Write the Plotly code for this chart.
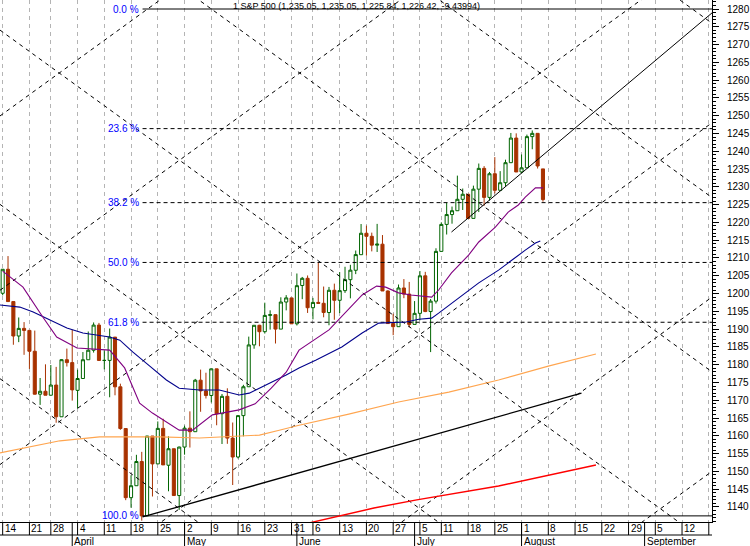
import plotly.graph_objects as go

# ---------------- data (trading-day index: 0 = Mon 14 Mar 2005) ----------------
day_idx = list(range(102))
opens = [1200.08,1206.83,1197.75,1188.07,1190.21,1189.65,1183.78,1171.71,1172.53,1171.42,
         1174.28,1165.36,1181.41,1180.59,1172.79,1176.12,1181.39,1184.07,1191.14,1181.20,
         1181.21,1187.76,1173.79,1162.05,1142.62,1145.98,1152.78,1137.50,1159.95,1152.12,
         1162.10,1151.74,1156.38,1143.22,1156.85,1162.16,1161.17,1175.65,1172.63,1171.35,
         1178.84,1166.22,1171.11,1159.36,1154.05,1165.69,1173.80,1185.56,1191.08,1189.28,
         1193.86,1194.07,1190.01,1197.62,1198.78,1191.50,1202.27,1204.29,1196.02,1197.51,
         1197.26,1194.67,1200.93,1198.11,1200.82,1203.91,1206.55,1210.93,1216.96,1216.10,
         1213.61,1213.88,1200.73,1191.57,1190.69,1201.57,1199.85,1191.33,1194.44,1204.99,
         1194.94,1197.87,1211.86,1219.44,1222.21,1223.29,1226.50,1227.92,1221.13,1229.35,
         1235.20,1227.04,1233.68,1229.03,1231.16,1236.79,1243.72,1234.18,1235.35,1244.12,
         1245.04,1235.05]
highs = [1206.83,1210.54,1197.75,1193.28,1191.98,1189.65,1189.59,1176.26,1180.11,1179.91,
         1179.39,1181.54,1184.53,1189.80,1178.61,1183.56,1189.34,1191.88,1191.75,1184.07,
         1190.17,1187.76,1174.67,1162.05,1148.92,1154.67,1155.50,1159.95,1159.95,1164.05,
         1164.80,1159.87,1156.38,1156.97,1162.87,1166.89,1176.01,1178.62,1177.75,1178.87,
         1178.84,1171.77,1173.37,1163.75,1165.75,1174.35,1187.90,1191.09,1191.22,1197.44,
         1195.29,1194.07,1198.95,1199.56,1198.78,1205.64,1204.67,1205.09,1198.78,1208.85,
         1201.97,1201.86,1202.79,1206.03,1207.53,1208.08,1212.10,1219.55,1219.10,1217.13,
         1219.59,1216.45,1200.90,1194.33,1202.54,1204.07,1203.27,1197.89,1206.34,1206.11,
         1198.46,1212.73,1220.03,1225.54,1224.46,1233.16,1229.53,1227.92,1230.34,1236.56,
         1235.83,1234.19,1238.36,1234.42,1237.64,1245.15,1245.04,1239.10,1244.69,1245.86,
         1245.04,1235.05]
lows = [1199.51,1197.75,1185.61,1186.34,1182.78,1178.82,1171.63,1168.70,1171.42,1171.42,
        1163.69,1165.36,1179.49,1169.91,1167.72,1176.12,1181.39,1183.41,1181.13,1178.69,
        1170.85,1171.40,1161.70,1141.92,1139.80,1145.98,1136.15,1137.50,1142.95,1152.12,
        1151.83,1144.42,1143.22,1139.19,1154.71,1156.71,1161.17,1166.77,1170.50,1169.38,
        1162.98,1157.71,1157.76,1146.18,1153.64,1159.86,1173.80,1184.49,1185.19,1188.76,
        1189.87,1185.96,1190.01,1195.28,1191.50,1191.03,1198.42,1194.55,1192.75,1197.26,
        1193.33,1191.09,1192.64,1194.51,1200.18,1198.66,1205.47,1210.93,1210.65,1211.86,
        1211.69,1200.72,1191.45,1188.30,1190.69,1198.70,1190.51,1191.33,1192.49,1194.78,
        1183.55,1197.20,1211.86,1216.60,1219.64,1223.29,1223.50,1221.13,1221.13,1222.91,
        1224.70,1226.15,1228.15,1229.03,1230.16,1236.79,1234.18,1233.80,1235.35,1240.57,
        1235.15,1225.84]
closes = [1206.83,1197.75,1188.07,1190.21,1189.65,1183.78,1171.71,1172.53,1171.42,1174.28,
          1165.36,1181.41,1180.59,1172.92,1176.12,1181.39,1184.07,1191.14,1181.20,1181.21,
          1187.76,1173.79,1162.05,1142.62,1145.98,1152.78,1137.50,1159.95,1152.12,1162.10,
          1151.83,1156.38,1143.22,1156.85,1162.16,1161.17,1175.65,1172.63,1171.35,1178.84,
          1166.22,1171.11,1159.36,1154.05,1165.69,1173.80,1185.56,1191.08,1189.28,1193.86,
          1194.07,1190.01,1197.62,1198.78,1191.50,1202.22,1204.29,1196.02,1197.51,1197.26,
          1194.67,1200.93,1198.11,1200.82,1203.91,1206.58,1210.96,1216.96,1216.10,1213.61,
          1213.88,1200.73,1191.57,1190.69,1201.57,1199.85,1191.33,1194.44,1204.99,1194.94,
          1197.87,1211.86,1219.44,1222.21,1223.29,1226.50,1227.92,1221.13,1229.35,1235.20,
          1227.04,1233.68,1229.03,1231.16,1236.79,1243.72,1234.18,1235.35,1244.12,1245.04,
          1235.86,1226.42]

# moving averages (day index, value)
ma_purple_t = [0.0,3.8,7.5,10.1,13.9,20.0,22.8,25.6,28.0,33.0,35.5,39.2,44.2,47.2,50.2,53.0,55.4,
               61.0,67.2,69.9,71.6,74.0,76.3,78.3,80.2,81.5,83.9,87.1,89.0,92.1,94.5,96.4,97.7,99.6,101.0]
ma_purple_v = [1206.3,1201.8,1193.4,1187.8,1184.7,1184.1,1179.1,1169.2,1166.4,1161.6,1161.6,1165.9,
               1167.3,1169.0,1173.4,1177.9,1184.1,1189.8,1199.6,1202.1,1201.8,1200.2,1199.6,1199.3,
               1199.0,1201.0,1205.8,1210.8,1214.5,1218.7,1222.9,1224.9,1227.1,1229.7,1229.7]
ma_navy_t = [-0.5,3.2,5.7,8.8,12.0,15.0,20.0,21.9,24.3,27.5,30.6,33.0,36.8,40.5,44.2,46.1,48.0,
             50.4,53.0,55.4,58.6,63.4,67.2,70.3,75.4,77.8,80.2,81.5,85.2,89.0,92.7,95.1,97.7,99.6,100.5]
ma_navy_v = [1196.8,1196.2,1194.8,1192.6,1190.3,1188.9,1187.8,1186.9,1183.6,1179.6,1175.7,1173.4,
             1172.9,1172.9,1171.5,1172.0,1173.4,1175.1,1177.1,1179.1,1181.3,1185.0,1188.9,1191.7,
             1192.0,1192.8,1193.1,1194.5,1198.8,1203.0,1206.6,1209.4,1212.2,1214.2,1214.8]
ma_orange_t = [-0.5,5.1,10.7,18.1,29.3,36.8,44.2,48.0,51.7,55.4,64.7,74.0,83.4,92.7,102.0,110.9]
ma_orange_v = [1155.2,1156.9,1158.6,1159.7,1159.7,1159.4,1160.0,1160.2,1161.6,1163.0,1166.1,1169.5,
               1172.3,1175.7,1179.6,1183.0]
ma_red_t = [57.5,69.4,77.4,92.7,110.9]
ma_red_v = [1135.6,1139.7,1142.0,1145.9,1151.8]

# trend lines (day index, value)
trend_low_t = [26.15, 108.2]
trend_low_v = [1137.2, 1172.0]
trend_up_t = [83.9, 132.6]
trend_up_v = [1217.3, 1278.9]

# Fibonacci retracement
fib_pct = [0.0, 23.6, 38.2, 50.0, 61.8, 100.0]
fib_labels = ["0.0 %", "23.6 %", "38.2 %", "50.0 %", "61.8 %", "100.0 %"]
fib_high, fib_low, fib_start = 1280.0, 1137.5, 26.15

# Gann grid (anchor, slope in points/day, spacing between parallel lines)
gann_t0, gann_v0, gann_slope, gann_step = 33.05, 1139.5, 1.09, 49.0

# date axis
week_t = [0,5,9,14,19,24,29,34,39,44,49,54,58,63,68,73,78,82,87,92,97,102,107,112,117,122,127,132]
week_lbl = ["14","21","28","4","11","18","25","2","9","16","23","31","6","13","20","27","5",
            "11","18","25","1","8","15","22","29","5","12",""]
month_t = [13,34,55,77,97,120]
month_lbl = ["April","May","June","July","August","September"]

title_text = "1 S&P 500 (1,235.05, 1,235.05, 1,225.84, 1,226.42, -9.43994)"

# ---------------- figure ----------------
X_MIN, X_MAX = -0.5, 132.6
Y_MIN, Y_MAX = 1135.78, 1282.53
PLOT_H = 522
FONT = "Liberation Sans, Arial, sans-serif"

fig = go.Figure()

# Gann lattice
for k in range(-3, 7):
    for sgn in (1, -1):
        vs = [gann_v0 + sgn * gann_slope * (t - gann_t0) + k * gann_step for t in (X_MIN, X_MAX)]
        fig.add_trace(go.Scatter(x=[X_MIN, X_MAX], y=vs, mode="lines",
                                 line=dict(color="black", width=1, dash="4px,4px"),
                                 hoverinfo="skip"))

# Fibonacci lines
for p in fib_pct:
    lvl = fib_high - (fib_high - fib_low) * p / 100.0
    solid = p in (0.0, 100.0)
    fig.add_trace(go.Scatter(x=[fib_start, X_MAX], y=[lvl, lvl], mode="lines",
                             line=dict(color="black", width=1, dash=None if solid else "4px,3px"),
                             hoverinfo="skip"))

# candles
fig.add_trace(go.Candlestick(
    x=day_idx, open=opens, high=highs, low=lows, close=closes,
    increasing=dict(line=dict(color="#006400", width=1), fillcolor="white"),
    decreasing=dict(line=dict(color="#A83200", width=1), fillcolor="#A83200"),
    whiskerwidth=0, hoverinfo="skip"))

# moving averages
for xs, ys, col, w in [(ma_orange_t, ma_orange_v, "#FFA54F", 1.1),
                       (ma_red_t, ma_red_v, "#FF0000", 1.5),
                       (ma_navy_t, ma_navy_v, "#00008B", 1.1),
                       (ma_purple_t, ma_purple_v, "#800080", 1.1)]:
    fig.add_trace(go.Scatter(x=xs, y=ys, mode="lines", line=dict(color=col, width=w),
                             hoverinfo="skip"))

# trend lines
fig.add_trace(go.Scatter(x=trend_low_t, y=trend_low_v, mode="lines",
                         line=dict(color="black", width=1.3), hoverinfo="skip"))
fig.add_trace(go.Scatter(x=trend_up_t, y=trend_up_v, mode="lines",
                         line=dict(color="black", width=1), hoverinfo="skip"))

annotations = []
for p, lab in zip(fib_pct, fib_labels):
    lvl = fib_high - (fib_high - fib_low) * p / 100.0
    annotations.append(dict(x=fib_start, y=lvl, xref="x", yref="y", text=lab, showarrow=False,
                            xanchor="right", yanchor="middle", xshift=-2,
                            font=dict(family=FONT, size=10, color="#0000FF")))
annotations.append(dict(x=0.5, y=1, xref="paper", yref="paper", text=title_text, showarrow=False,
                        xanchor="center", yanchor="top", yshift=1,
                        font=dict(family=FONT, size=9, color="black")))

row1 = -13.0 / PLOT_H
row2 = -24.0 / PLOT_H
shapes = []
for t, lab in zip(week_t, week_lbl):
    shapes.append(dict(type="line", xref="x", yref="paper", x0=t, x1=t, y0=0, y1=row1,
                       line=dict(color="black", width=1)))
    if lab:
        annotations.append(dict(x=t, y=row1 / 2, xref="x", yref="paper", text=lab, showarrow=False,
                                xanchor="left", yanchor="middle", xshift=0,
                                font=dict(family=FONT, size=10, color="black")))
for t, lab in zip(month_t, month_lbl):
    shapes.append(dict(type="line", xref="x", yref="paper", x0=t, x1=t, y0=0, y1=row2 - 0.01,
                       line=dict(color="black", width=1)))
    annotations.append(dict(x=t, y=(row1 + row2) / 2 - 0.002, xref="x", yref="paper", text=lab,
                            showarrow=False, xanchor="left", yanchor="middle", xshift=0,
                            font=dict(family=FONT, size=10, color="black")))
shapes.append(dict(type="line", xref="paper", yref="paper", x0=0, x1=1, y0=row1, y1=row1,
                   line=dict(color="black", width=1)))

fig.update_layout(
    width=750, height=546,
    margin=dict(l=0, r=36, t=0, b=24),
    plot_bgcolor="white", paper_bgcolor="white",
    showlegend=False, boxgap=0.18,
    font=dict(family=FONT, size=10, color="black"),
    annotations=annotations, shapes=shapes,
    xaxis=dict(range=[X_MIN, X_MAX], tickvals=week_t, showticklabels=False, ticks="",
               showgrid=True, gridcolor="#B4B4B4", griddash="4px,4px", gridwidth=1,
               zeroline=False, showline=True, linecolor="black", linewidth=1,
               rangeslider=dict(visible=False), fixedrange=True),
    yaxis=dict(range=[Y_MIN, Y_MAX], side="right", tick0=1140, dtick=5,
               ticks="outside", ticklen=6, tickcolor="black", tickwidth=1,
               ticklabelstandoff=6,
               minor=dict(dtick=1, ticks="outside", ticklen=3, tickcolor="black", showgrid=False),
               showgrid=False, zeroline=False, showline=True, linecolor="black", linewidth=1,
               tickfont=dict(family=FONT, size=10, color="black"), fixedrange=True),
)

fig.write_html("out.html", config={"displayModeBar": False},
               post_script="document.body.style.margin='0';document.body.style.overflow='hidden';")
